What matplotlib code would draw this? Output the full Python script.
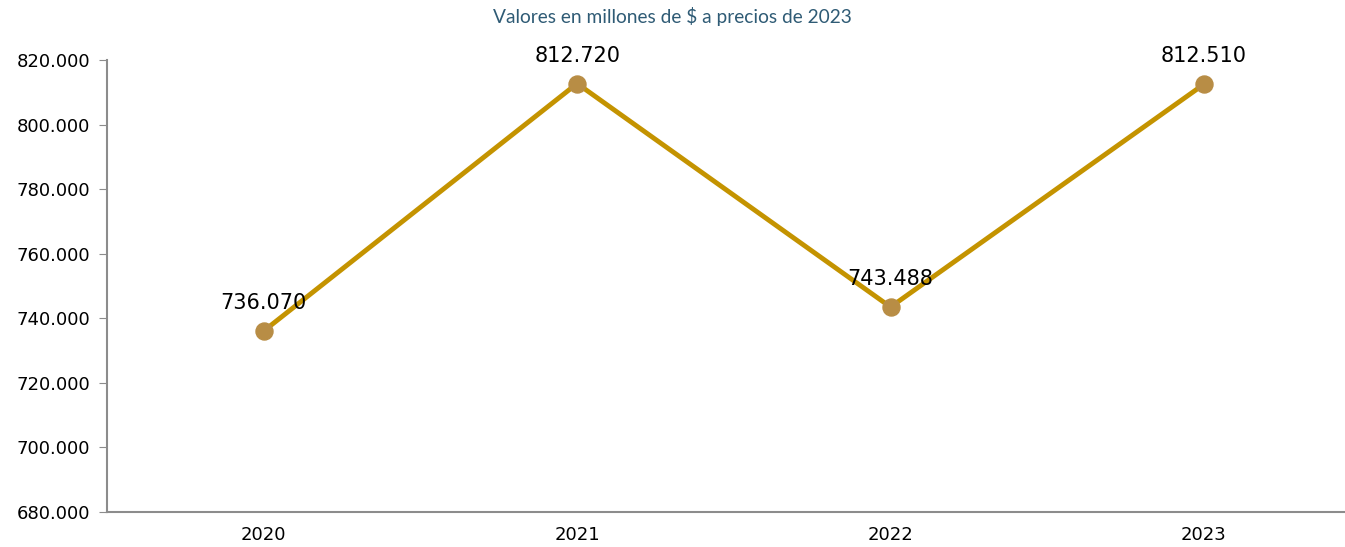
import matplotlib.pyplot as plt
from matplotlib.ticker import FuncFormatter

years = ['2020', '2021', '2022', '2023']
values = [736070, 812720, 743488, 812510]
labels = ['736.070', '812.720', '743.488', '812.510']

fig = plt.figure(figsize=(13.45, 5.47), dpi=100, facecolor='white')
ax = fig.add_axes([107 / 1345, 35 / 547, (1345 - 107) / 1345, (512 - 35) / 547])

x = list(range(len(years)))
ax.plot(x, values, color='#C49300', linewidth=3.5, zorder=2)
ax.scatter(x, values, s=150, color='#B88D45', zorder=3)

for xi, v, lab in zip(x, values, labels):
    ax.annotate(lab, (xi, v), xytext=(0, 20), textcoords='offset points',
                ha='center', va='center', fontsize=15, color='black')

ax.set_xlim(-0.5, 3.45)
ax.set_ylim(680000, 680000 + (512 - 35) / 64.57 * 20000)
ax.set_yticks(range(680000, 820001, 20000))
ax.yaxis.set_major_formatter(FuncFormatter(lambda v, p: f'{int(v):,}'.replace(',', '.')))
ax.set_xticks(x)
ax.set_xticklabels(years)

for side in ['top', 'right']:
    ax.spines[side].set_visible(False)
ax.spines['left'].set_color('#8c8c8c')
ax.spines['bottom'].set_color('#8c8c8c')
ax.spines['left'].set_linewidth(1.5)
ax.spines['bottom'].set_linewidth(1.5)
ax.spines['left'].set_bounds(680000, 820000)
ax.tick_params(axis='y', length=6, color='#8c8c8c', labelsize=13, pad=6)
ax.tick_params(axis='x', length=0, labelsize=13, pad=10)

fig.text(0.5, 1 - 17 / 547, 'Valores en millones de $ a precios de 2023',
         ha='center', va='center', fontsize=13.8, color='#2F5B75', family='Lato')

plt.savefig('out.png', dpi=100, facecolor='white')
plt.close()
